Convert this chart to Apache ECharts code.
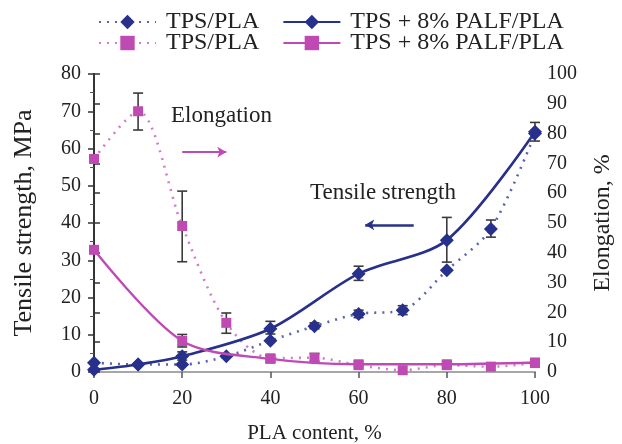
<!DOCTYPE html>
<html>
<head>
<meta charset="utf-8">
<script src="https://cdn.jsdelivr.net/npm/echarts@6/dist/echarts.min.js"></script>
<style>
  html, body { margin: 0; padding: 0; background: #fff; }
  #chart { width: 622px; height: 444px; }
</style>
</head>
<body>
<div id="chart"></div>
<script>
// tensile strength, MPa (left axis)
const tsPla = [[0, 2.5], [10, 2], [20, 2], [30, 4.2], [40, 8.4], [50, 12.3], [60, 15.6], [70, 16.6], [80, 27.3], [90, 38.4], [100, 64]]
const tsPalf = [[0, 0.6], [10, 2], [20, 4.2], [40, 11.6], [60, 26.4], [80, 35.4], [100, 64.5]]
// elongation, % (right axis)
const elPla = [[0, 71.5], [10, 87.5], [20, 49], [30, 16.5], [40, 4.6], [50, 4.8], [60, 2.3], [70, 0.6], [80, 2.3], [90, 1.8], [100, 3]]
const elPalf = [[0, 41], [20, 10.4], [40, 4.4], [60, 2.6], [80, 2.6], [100, 3.2]]
// error bars [x, low, high]
const tsErr = [[20, 3.2, 5.4], [40, 10.2, 13.6], [50, 11.6, 13.2], [60, 24.6, 28.4], [60, 14.6, 16.6], [70, 15.4, 17.8], [80, 29.5, 41.5], [90, 36.2, 40.8], [100, 62, 67]]
const elErr = [[10, 81.2, 93.6], [20, 37, 60.7], [20, 8.4, 12.6], [30, 13, 19.8], [40, 3.4, 5.6], [50, 3.6, 6.2]]

const xTicks = [0, 20, 40, 60, 80, 100]

const NAVY = '#27308a'
const NAVY_DOT = '#5a62b2'
const MAG = '#c04ab4'
const MAG_DOT = '#d27ccb'
const FONT = '"Liberation Serif", "DejaVu Serif", serif'

const legendNames = {
  tsPla: 'TPS/PLA', tsPalf: 'TPS + 8% PALF/PLA',
  elPla: 'TPS/PLA', elPalf: 'TPS + 8% PALF/PLA'
}

function errBar(yIdx) {
  return {
    type: 'custom',
    yAxisIndex: yIdx,
    silent: true,
    z: 1,
    renderItem: function (params, api) {
      const lo = api.coord([api.value(0), api.value(1)])
      const hi = api.coord([api.value(0), api.value(2)])
      const w = 5
      const st = { stroke: '#3a3a3a', lineWidth: 1.6 }
      return {
        type: 'group',
        children: [
          { type: 'line', shape: { x1: lo[0], y1: lo[1], x2: hi[0], y2: hi[1] }, style: st },
          { type: 'line', shape: { x1: lo[0] - w, y1: lo[1], x2: lo[0] + w, y2: lo[1] }, style: st },
          { type: 'line', shape: { x1: hi[0] - w, y1: hi[1], x2: hi[0] + w, y2: hi[1] }, style: st }
        ]
      }
    },
    encode: { x: 0, y: [1, 2] },
    data: yIdx === 0 ? tsErr : elErr
  }
}

function legendRow(names, top) {
  return {
    data: names,
    top: top, left: 98, padding: 0,
    itemWidth: 57, itemHeight: 18, itemGap: 23,
    formatter: n => legendNames[n],
    textStyle: { color: '#222', fontSize: 24, fontFamily: FONT, padding: [0, 0, 0, 5] }
  }
}

const chart = echarts.init(document.getElementById('chart'))

const tickFont = { color: '#222', fontSize: 20, fontFamily: FONT }

chart.setOption({
  animation: false,
  textStyle: { fontFamily: FONT },
  legend: [legendRow(['tsPla', 'tsPalf'], 10), legendRow(['elPla', 'elPalf'], 31)],
  grid: { left: 94, right: 87, top: 74, bottom: 72, outerBoundsMode: 'none' },
  xAxis: [
    {
      type: 'value',
      min: 0, max: 100, interval: 20,
      offset: 4,
      name: 'PLA content, %',
      nameLocation: 'middle',
      nameGap: 47,
      nameTextStyle: { color: '#222', fontSize: 21, fontFamily: FONT },
      axisLine: { lineStyle: { color: '#555', width: 1.5 } },
      axisTick: { lineStyle: { color: '#555', width: 1.5 }, length: 6 },
      axisLabel: Object.assign({ margin: 13, customValues: xTicks }, tickFont),
      splitLine: { show: false }
    },
    {
      type: 'value',
      position: 'top',
      min: 0, max: 100,
      axisLine: { show: true, lineStyle: { color: '#b5b5b5', width: 1.5 } },
      axisTick: { show: false },
      axisLabel: { show: false },
      splitLine: { show: false }
    }
  ],
  yAxis: [
    {
      type: 'value',
      min: 0, max: 80, interval: 10,
      name: 'Tensile strength, MPa',
      nameLocation: 'middle',
      nameGap: 57,
      nameTextStyle: { color: '#222', fontSize: 26, fontFamily: FONT },
      axisLine: { show: true, lineStyle: { color: '#333', width: 1.8 } },
      axisTick: { show: true, length: 6, lineStyle: { color: '#333', width: 1.5 } },
      minorTick: { show: true, splitNumber: 2, length: 4, lineStyle: { color: '#555' } },
      axisLabel: Object.assign({ margin: 13 }, tickFont),
      splitLine: { show: false }
    },
    {
      type: 'value',
      min: 0, max: 100, interval: 10,
      position: 'right',
      name: 'Elongation, %',
      nameLocation: 'middle',
      nameGap: 56,
      nameRotate: 90,
      nameTextStyle: { color: '#222', fontSize: 24, fontFamily: FONT },
      axisLine: { show: true, lineStyle: { color: '#333', width: 1.8 } },
      axisTick: { show: true, length: 6, lineStyle: { color: '#333', width: 1.5 } },
      axisLabel: Object.assign({ margin: 12 }, tickFont),
      splitLine: { show: false }
    }
  ],
  graphic: [
    { type: 'text', left: 171, top: 104, style: { text: 'Elongation', fill: '#222', font: '23px ' + FONT } },
    { type: 'text', left: 310, top: 181, style: { text: 'Tensile strength', fill: '#222', font: '23px ' + FONT } }
  ],
  series: [
    errBar(0),
    errBar(1),
    {
      name: 'tsPla', type: 'line', yAxisIndex: 0, smooth: 0.3, z: 3,
      symbol: 'diamond', symbolSize: 14,
      lineStyle: { color: NAVY_DOT, width: 2.6, type: [2, 6] },
      itemStyle: { color: NAVY },
      data: tsPla
    },
    {
      name: 'tsPalf', type: 'line', yAxisIndex: 0, smooth: 0.3, z: 4,
      symbol: 'diamond', symbolSize: 14,
      lineStyle: { color: NAVY, width: 2.6 },
      itemStyle: { color: NAVY },
      data: tsPalf,
      markLine: {
        silent: true, symbol: ['none', 'arrow'], symbolSize: [8, 9],
        label: { show: false },
        lineStyle: { color: NAVY, width: 2.5, type: 'solid' },
        data: [[{ coord: [72.5, 39.5] }, { coord: [61.5, 39.5] }]]
      }
    },
    {
      name: 'elPla', type: 'line', yAxisIndex: 1, smooth: 0.3, z: 3,
      symbol: 'rect', symbolSize: 10,
      lineStyle: { color: MAG_DOT, width: 2.6, type: [2, 6] },
      itemStyle: { color: MAG },
      data: elPla
    },
    {
      name: 'elPalf', type: 'line', yAxisIndex: 1, smooth: 0.3, z: 4,
      symbol: 'rect', symbolSize: 10,
      lineStyle: { color: MAG, width: 2.4 },
      itemStyle: { color: MAG },
      data: elPalf,
      markLine: {
        silent: true, symbol: ['none', 'arrow'], symbolSize: [8, 9],
        label: { show: false },
        lineStyle: { color: MAG, width: 2.2, type: 'solid' },
        data: [[{ coord: [20, 73.8] }, { coord: [30, 73.8] }]]
      }
    }
  ]
})
</script>
</body>
</html>
